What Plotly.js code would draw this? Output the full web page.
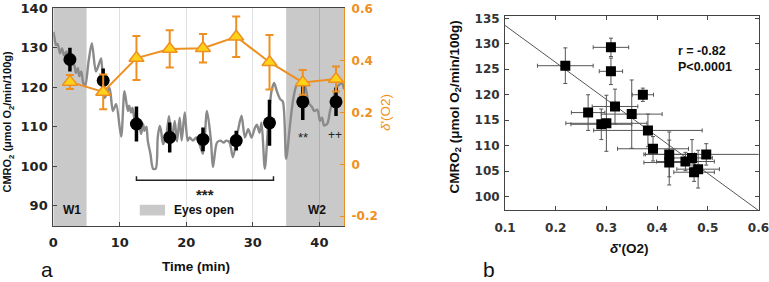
<!DOCTYPE html>
<html>
<head>
<meta charset="utf-8">
<script src="https://cdn.plot.ly/plotly-3.0.1.min.js"></script>
<style>html,body{margin:0;padding:0;background:#fff}#plot{width:769px;height:282px}</style>
</head>
<body>
<div id="plot"></div>
<script>
// ---------- Panel a data ----------
const traceTime = [0.0,0.15,0.4,0.65,1.0,1.3,1.6,2.0,2.4,2.8,3.2,3.4,3.7,3.9,4.2,4.5,4.8,5.3,5.8,6.4,6.9,7.2,7.7,8.45,8.95,9.45,10.2,10.7,11.2,11.4,11.7,11.9,12.3,12.7,13.2,13.5,13.7,14.0,14.2,14.6,15.0,15.4,15.7,16.0,16.2,16.5,17.0,17.4,17.8,18.25,18.6,19.0,19.3,19.76,20.2,20.5,21.0,21.5,22.0,22.5,23.1,23.7,24.0,24.6,25.1,25.6,26.0,26.5,27.0,27.8,28.3,28.8,29.3,29.8,30.3,30.6,31.0,31.3,31.8,32.3,32.8,33.2,33.6,34.1,34.5,35.0,35.6,36.1,36.6,37.4,37.9,38.4,38.9,39.2,39.7,40.1,40.4,40.7,41.2,41.6,42.1,42.6,43.4,43.7];
const traceCMRO = [134.0,132.8,130.7,130.9,128.6,129.8,128.1,129.0,127.0,126.5,125.3,123.6,124.8,122.8,124.0,121.1,120.3,126.5,131.1,124.0,126.0,127.3,117.3,119.8,114.0,115.7,107.5,119.0,114.0,115.3,113.6,114.8,111.5,112.3,108.2,110.7,109.0,110.0,106.5,103.2,99.4,99.4,107.3,110.2,109.0,105.6,108.0,112.7,106.5,111.5,106.3,112.3,106.5,113.6,106.5,107.3,106.5,107.3,105.5,103.2,114.0,106.5,99.8,106.0,106.5,106.0,106.5,106.0,102.3,109.4,112.8,107.3,109.4,107.3,109.7,110.5,108.5,111.0,99.4,110.5,119.0,121.1,119.0,117.0,116.4,101.9,110.8,117.3,120.6,121.5,120.0,116.0,115.0,114.0,114.3,111.5,112.3,110.3,110.8,114.0,117.3,120.0,121.0,119.5];

const blockTime = [2.5,7.5,12.5,17.5,22.5,27.5,32.5,37.5,42.5];
const blockCMRO = [127.0,121.7,110.7,107.3,106.8,106.5,111.0,116.3,116.3];
const blockCMROErr = [3.0,3.0,4.4,3.8,3.0,2.5,5.8,4.6,3.6];
const blockDelta = [0.318,0.279,0.41,0.445,0.448,0.492,0.394,0.316,0.329];
const blockDeltaErr = [0.027,0.067,0.085,0.072,0.055,0.078,0.105,0.048,0.048];

const restWindows = [[0,5],[35,43.7]];
const restLabels = ['W1','W2'];
const restLabelX = [2.8,39.7];
const bracketX = [12.5,33.1];
const bracketY = [96.5,97.5];

// ---------- Panel b data ----------
const deltaB = [0.219,0.309,0.309,0.372,0.264,0.317,0.350,0.290,0.300,0.382,0.392,0.424,0.424,0.456,0.469,0.473,0.481,0.497];
const cmroB  = [125.7,129.3,124.6,120.0,116.5,117.7,116.2,114.2,114.4,113.0,109.4,108.3,106.7,106.9,107.6,104.8,105.4,108.3];
const deltaErrB = [0.055,0.035,0.023,0.021,0.033,0.045,0.06,0.06,0.08,0.107,0.07,0.05,0.05,0.057,0.04,0.04,0.042,0.12];
const cmroErrB  = [3.5,1.8,2.6,1.3,3.5,3.4,6.7,3.0,5.5,3.2,2.4,4.4,4.4,1.8,3.6,1.8,3.7,2.1];
const fitX = [0.1,0.6];
const fitY = [133.6,97.3];

// ---------- styling ----------
const ORANGE = '#EE9021';
const YELLOW = '#FFD21A';
const SHADE = '#C9C9C9';
const tickFontA = {family:'DejaVu Sans', size:13, color:'#222', weight:'bold'};
const tickFontB = {family:'DejaVu Sans', size:12, color:'#333', weight:'bold'};
const annFont = {family:'Liberation Sans, Arial', size:12, color:'#111', weight:'bold'};

const traces = [
  {x:traceTime, y:traceCMRO, type:'scatter', mode:'lines', xaxis:'x', yaxis:'y',
   line:{color:'#8a8a8a', width:2.4, shape:'spline', smoothing:0.8}, hoverinfo:'skip'},
  {x:blockTime, y:blockCMRO, type:'scatter', mode:'markers', xaxis:'x', yaxis:'y',
   marker:{color:'#000', size:13},
   error_y:{type:'data', array:blockCMROErr, color:'#000', thickness:3.5, width:0}},
  {x:blockTime, y:blockDelta, type:'scatter', mode:'lines+markers', xaxis:'x', yaxis:'y2',
   line:{color:ORANGE, width:2},
   marker:{symbol:'triangle-up', size:13, color:YELLOW, line:{color:ORANGE, width:1.5}},
   error_y:{type:'data', array:blockDeltaErr, color:ORANGE, thickness:2, width:4}},
  {x:fitX, y:fitY, type:'scatter', mode:'lines', xaxis:'x2', yaxis:'y3',
   line:{color:'#555', width:1}},
  {x:deltaB, y:cmroB, type:'scatter', mode:'markers', xaxis:'x2', yaxis:'y3',
   marker:{symbol:'square', color:'#000', size:10},
   error_x:{type:'data', array:deltaErrB, color:'#555', thickness:1, width:2},
   error_y:{type:'data', array:cmroErrB, color:'#555', thickness:1, width:2}}
];

const shapes = [];
restWindows.forEach(w => shapes.push({type:'rect', xref:'x', yref:'y domain', x0:w[0], x1:w[1], y0:0, y1:1,
  fillcolor:SHADE, line:{width:0}, layer:'below'}));
shapes.push({type:'rect', xref:'x', yref:'y', x0:13, x1:16.8, y0:87.6, y1:90.3, fillcolor:SHADE, line:{width:0}, layer:'below'});
shapes.push({type:'path', xref:'x', yref:'y',
  path:`M${bracketX[0]},${bracketY[1]} L${bracketX[0]},${bracketY[0]} L${bracketX[1]},${bracketY[0]} L${bracketX[1]},${bracketY[1]}`,
  line:{color:'#222', width:1.5}});

const C = {xanchor:'center', yanchor:'middle', showarrow:false};
const annotations = [];
restLabels.forEach((t,i) => annotations.push({...C, text:t, x:restLabelX[i], y:89, xref:'x', yref:'y', font:annFont}));
annotations.push({...C, text:'Eyes open', x:17.9, y:89, xref:'x', yref:'y', xanchor:'left', font:annFont});
annotations.push({...C, text:'***', x:22.8, y:92.8, xref:'x', yref:'y', font:{family:'Liberation Sans, Arial', size:15, color:'#222', weight:'bold'}});
annotations.push({...C, text:'**', x:37.5, y:107.2, xref:'x', yref:'y', font:{family:'Liberation Sans, Arial', size:13, color:'#222'}});
annotations.push({...C, text:'++', x:42.3, y:108, xref:'x', yref:'y', font:{family:'Liberation Sans, Arial', size:12, color:'#222'}});
annotations.push({...C, text:'CMRO<sub>2</sub> (μmol O<sub>2</sub>/min/100g)', x:8/769, y:0.569, xref:'paper', yref:'paper', textangle:-90,
  font:{family:'Liberation Sans, Arial', size:11, color:'#111', weight:'bold'}});
annotations.push({...C, text:'<i>δ</i>\'(O2)', x:385/769, y:0.599, xref:'paper', yref:'paper', textangle:-90,
  font:{family:'Liberation Sans, Arial', size:13.5, color:ORANGE}});
annotations.push({...C, text:'Time (min)', x:196/769, y:(282-266)/282, xref:'paper', yref:'paper',
  font:{family:'Liberation Sans, Arial', size:13.5, color:'#111', weight:'bold'}});
annotations.push({...C, text:'a', x:47/769, y:(282-269)/282, xref:'paper', yref:'paper',
  font:{family:'Liberation Sans, Arial', size:21, color:'#111'}});
annotations.push({...C, text:'b', x:489/769, y:(282-269)/282, xref:'paper', yref:'paper',
  font:{family:'Liberation Sans, Arial', size:21, color:'#111'}});
annotations.push({...C, text:'CMRO<sub>2</sub> (μmol O<sub>2</sub>/min/100g)', x:455/769, y:0.619, xref:'paper', yref:'paper', textangle:-90,
  font:{family:'Liberation Sans, Arial', size:13.5, color:'#111', weight:'bold'}});
annotations.push({...C, text:'<i>δ</i>\'(O2)', x:629/769, y:(282-248)/282, xref:'paper', yref:'paper',
  font:{family:'Liberation Sans, Arial', size:13.5, color:'#111', weight:'bold'}});
annotations.push({...C, text:'r = -0.82<br>P<0.0001', x:0.438, y:127.1, xref:'x2', yref:'y3', xanchor:'left', align:'left',
  font:{family:'Liberation Sans, Arial', size:12.5, color:'#111', weight:'bold'}});

const layout = {
  width:769, height:282, margin:{l:0,r:0,t:0,b:0},
  paper_bgcolor:'#fff', plot_bgcolor:'#fff', showlegend:false,
  xaxis:{domain:[53.3/769, 344/769], range:[0,43.7], tickvals:[0,10,20,30,40], anchor:'y',
    showgrid:true, gridcolor:'rgba(0,0,0,0.12)', gridwidth:1, zeroline:false,
    showline:true, linecolor:'#444', linewidth:1, mirror:true,
    ticks:'inside', ticklen:4, tickcolor:'#444', tickfont:tickFontA, ticklabelstandoff:4, ticklabeloverflow:'allow'},
  yaxis:{domain:[(282-226)/282, (282-8)/282], range:[84.92,140.02], tickvals:[90,100,110,120,130,140], anchor:'x',
    showgrid:false, zeroline:false, showline:true, linecolor:'#444', linewidth:1,
    ticks:'inside', ticklen:4, tickcolor:'#444', tickfont:tickFontA, ticklabelstandoff:2, ticklabeloverflow:'allow'},
  yaxis2:{overlaying:'y', side:'right', anchor:'x', range:[-0.238,0.603],
    tickvals:[-0.2,0,0.2,0.4,0.6], ticktext:['-0.2','0','0.2','0.4','0.6'],
    showgrid:false, zeroline:false, showline:true, linecolor:ORANGE, linewidth:1.2,
    ticks:'inside', ticklen:4, tickcolor:ORANGE,
    tickfont:{family:'DejaVu Sans', size:12, color:ORANGE, weight:'bold'}, ticklabelstandoff:4, ticklabeloverflow:'allow'},
  xaxis2:{domain:[505/769, 758.7/769], range:[0.1,0.6005], tickvals:[0.1,0.2,0.3,0.4,0.5,0.6], anchor:'y3',
    showgrid:false, zeroline:false, showline:true, linecolor:'#444', linewidth:1, mirror:'ticks',
    ticks:'inside', ticklen:4, tickcolor:'#444', tickfont:tickFontB, ticklabelstandoff:6, ticklabeloverflow:'allow'},
  yaxis3:{domain:[0.2543, 0.9443], range:[97.33,135.51], tickvals:[100,105,110,115,120,125,130,135], anchor:'x2',
    showgrid:false, zeroline:false, showline:true, linecolor:'#444', linewidth:1, mirror:'ticks',
    ticks:'inside', ticklen:4, tickcolor:'#444', tickfont:tickFontB, ticklabelstandoff:2, ticklabeloverflow:'allow'},
  shapes:shapes, annotations:annotations
};

Plotly.newPlot('plot', traces, layout, {staticPlot:true, displayModeBar:false});
</script>
</body>
</html>
